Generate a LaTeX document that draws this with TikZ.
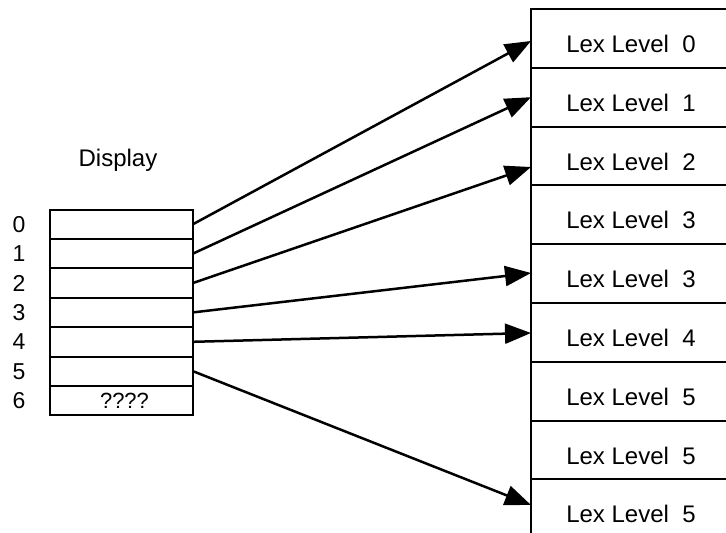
\documentclass[tikz,border=0pt]{standalone}
\usepackage{fontspec}
\setmainfont{Liberation Sans}
\usetikzlibrary{arrows.meta,calc}
\tikzset{
  cell/.style={draw, line width=2pt, minimum width=200pt, minimum height=58.8pt, inner sep=0pt, outer sep=0pt},
  drow/.style={draw, line width=2pt, minimum width=143pt, minimum height=29.4pt, inner sep=0pt, outer sep=0pt, font=\fontsize{22}{24}\selectfont},
  num/.style={inner sep=0pt, font=\fontsize{23}{25}\selectfont},
  lbl/.style={font=\fontsize{24}{28}\selectfont},
  ptr/.style={line width=2.5pt, -{Triangle[length=26pt,width=20pt]}}
}
\begin{document}
\begin{tikzpicture}[x=1pt,y=-1pt]
\useasboundingbox (0,0) rectangle (726,533);
\clip (0,0) rectangle (726,533);
% right column
\foreach \i/\t in {0/0,1/1,2/2,3/3,4/3,5/4,6/5,7/5,8/5}{
  \node[cell, label={[lbl, yshift=-5.5pt]center:Lex Level\ \ \t}] (c\i) at (631, 38.4+58.8*\i) {};
}
% display
\node[lbl] (title) at (118, 160) {Display};
\foreach \i in {0,...,5}{
  \node[drow] (d\i) at (121.5, 224.2+29.4*\i) {};
  \node[num] (n\i) at (19, 224.2+29.4*\i) {\i};
}
\node[drow] (d6) at (121.5, 224.2+29.4*6) {\hspace{6pt}????};
\node[num] (n6) at (19, 224.2+29.4*6) {6};
% pointers
\draw[ptr] (d0.east) -- ($(c0.west)+(0,2.6)$);
\draw[ptr] (d1.east) -- ($(c1.west)+(0,0)$);
\draw[ptr] (d2.east) -- ($(c2.west)+(0,11)$);
\draw[ptr] (d3.east) -- ($(c4.west)+(0,-0.6)$);
\draw[ptr] (d4.east) -- ($(c5.west)+(0,0.6)$);
\draw[ptr] (d5.east) -- ($(c8.west)+(0,-3.8)$);
\end{tikzpicture}
\end{document}
